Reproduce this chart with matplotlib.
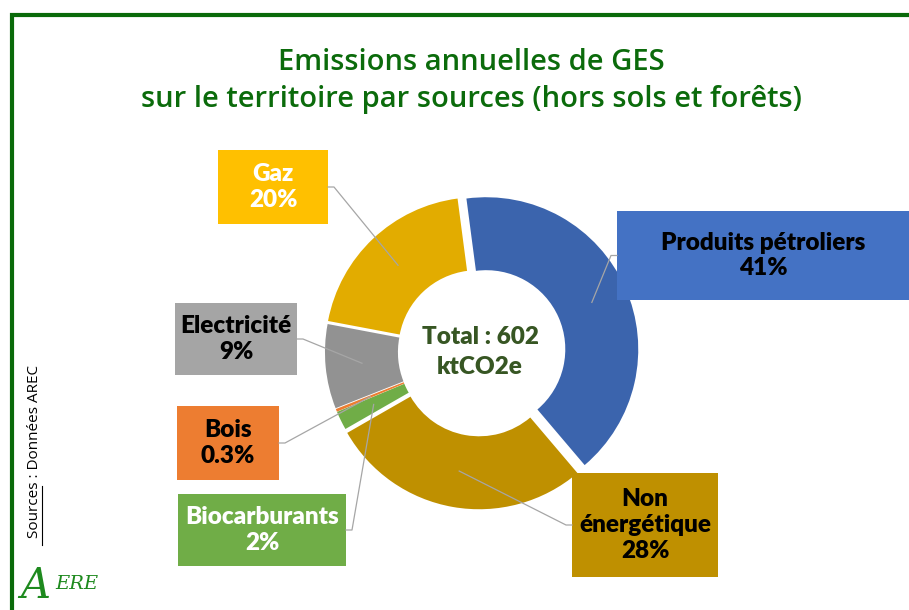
import numpy as np
import matplotlib
matplotlib.use("Agg")
import matplotlib.pyplot as plt
from matplotlib.lines import Line2D
from matplotlib.patches import Rectangle

W, H = 909, 610

# donnees (ordre horaire depuis le haut)
sources = ["Produits pétroliers", "Non\nénergétique", "Biocarburants", "Bois", "Electricité", "Gaz"]
parts = [41, 28, 2, 0.3, 9, 20]
pct_labels = ["41%", "28%", "2%", "0.3%", "9%", "20%"]
wedge_colors = ["#3B64AD", "#BF9000", "#70AD47", "#ED7D31", "#929292", "#E2AC00"]
box_colors = ["#4472C4", "#BF9000", "#70AD47", "#ED7D31", "#A5A5A5", "#FFC000"]
text_colors = ["black", "black", "white", "black", "black", "white"]
explode = [0.045, 0.035, 0.02, 0.02, 0.02, 0.025]

# boites des etiquettes en pixels : x0, y0 (haut), x1, y1 (bas)
boxes = [
    (617, 211, 909, 300),
    (572, 473, 718, 577),
    (178, 494, 346, 566),
    (177, 406, 279, 480),
    (175, 303, 297, 375),
    (218, 150, 328, 224),
]
box_side = ["left", "left", "right", "right", "right", "right"]

CX, CY, R = 480, 352, 152
START = 97.5
RING = 0.48

TITLE_COLOR = "#0B6B0B"
FONT = "Lato"


def px(x, y):
    # pixels image (origine en haut) -> fraction figure
    return x / W, 1 - y / H


fig = plt.figure(figsize=(W / 100, H / 100), dpi=100)

# cadre vert
fig.add_artist(Line2D([11.5 / W, 11.5 / W, 1.0], [0.0, 1 - 14.5 / H, 1 - 14.5 / H],
                      transform=fig.transFigure, color="#0A6A0A", linewidth=3,
                      solid_joinstyle="miter"))

for txt, yy in [("Emissions annuelles de GES", 63),
                ("sur le territoire par sources (hors sols et forêts)", 99)]:
    fig.text(471 / W, 1 - yy / H, txt, ha="center", va="center", fontsize=21,
             color=TITLE_COLOR, family="Open Sans", fontweight="semibold")

ax = fig.add_axes([(CX - R) / W, (H - CY - R) / H, 2 * R / W, 2 * R / H])
wedges, _ = ax.pie(parts, colors=wedge_colors, startangle=START, counterclock=False,
                   explode=explode, radius=1,
                   wedgeprops=dict(width=RING, edgecolor="none"))
ax.set_xlim(-1, 1)
ax.set_ylim(-1, 1)
ax.set_aspect("equal")
ax.axis("off")

ax.text(0, 0.0, "Total : 602\nktCO2e", ha="center", va="center", fontsize=17.5,
        fontweight="heavy", color="#375623", family=FONT, linespacing=1.45)

for i, w in enumerate(wedges):
    x0, y0, x1, y1 = boxes[i]
    fig.add_artist(Rectangle(px(x0, y1), (x1 - x0) / W, (y1 - y0) / H,
                             transform=fig.transFigure, facecolor=box_colors[i],
                             edgecolor="none"))
    name = sources[i] + "\n" + pct_labels[i]
    fig.text((x0 + x1) / 2 / W, 1 - (y0 + y1) / 2 / H, name, ha="center", va="center",
             fontsize=17.5, fontweight="heavy", color=text_colors[i], family=FONT,
             linespacing=1.22)

    # trait de rappel : milieu de l'anneau -> coude -> bord de la boite
    mid = np.deg2rad((w.theta1 + w.theta2) / 2)
    rr = 1 - RING / 2
    ox, oy = w.center
    pt = ax.transData.transform((ox + rr * np.cos(mid), oy + rr * np.sin(mid)))
    fx, fy = fig.transFigure.inverted().transform(pt)
    ym = 1 - ((y0 + y1) / 2) / H
    if box_side[i] == "left":
        ex, kx = x0 / W, (x0 - 6) / W
    else:
        ex, kx = x1 / W, (x1 + 6) / W
    fig.add_artist(Line2D([ex, kx, fx], [ym, ym, fy], transform=fig.transFigure,
                          color="#A6A6A6", linewidth=0.9))

# source verticale
fig.text(35 / W, 1 - 452 / H, "Sources : Données AREC", rotation=90, ha="center",
         va="center", fontsize=11, color="black", family="Open Sans")
fig.add_artist(Line2D([42 / W, 42 / W], [1 - 545 / H, 1 - 486 / H],
                      transform=fig.transFigure, color="black", linewidth=0.8))

# logo
fig.text(20 / W, 1 - 586 / H, "A", fontsize=30, style="italic", color="#1E8A1E",
         family="DejaVu Serif", va="center", ha="left")
fig.text(55 / W, 1 - 584 / H, "ERE", fontsize=14, style="italic", color="#1E8A1E",
         family="DejaVu Serif", va="center", ha="left")

fig.savefig("out.png", dpi=100)
